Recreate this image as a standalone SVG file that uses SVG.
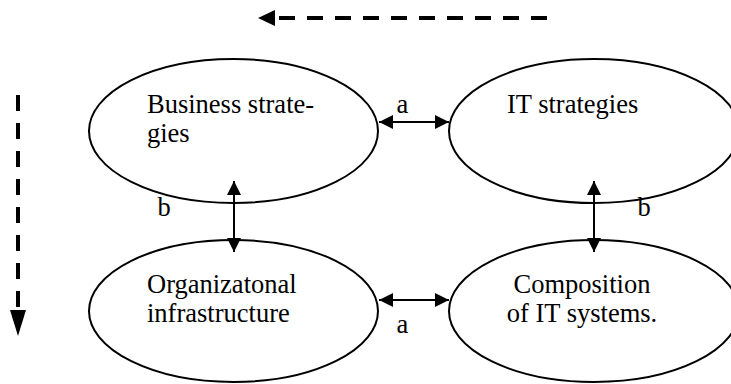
<svg xmlns="http://www.w3.org/2000/svg" width="731" height="384" viewBox="0 0 731 384">
<style>
.node ellipse{fill:#fff;stroke:#000;stroke-width:2}
.t{font-family:"Liberation Serif","Times New Roman",serif;font-size:26.5px;fill:#000}
.lbl{font-family:"Liberation Serif","Times New Roman",serif;font-size:26.5px;fill:#000}
.conn{stroke:#000;stroke-width:2;fill:none}
.dash{stroke:#000;stroke-width:4;fill:none;stroke-dasharray:16 12}
</style>
<defs>
<marker id="ah" viewBox="0 0 14 14" refX="14" refY="7" markerWidth="14" markerHeight="14" markerUnits="userSpaceOnUse" orient="auto-start-reverse">
<path d="M0,0 L14,7 L0,14 z" fill="#000"/>
</marker>
</defs>
<rect width="731" height="384" fill="#fff"/>
<g id="n-business" class="node">
<ellipse cx="233.5" cy="131" rx="144.5" ry="72"/>
<text class="t" x="147" y="113">Business strate-</text>
<text class="t" x="147" y="142">gies</text>
</g>
<g id="n-it" class="node">
<ellipse cx="594" cy="131" rx="145" ry="72"/>
<text class="t" x="507" y="113">IT strategies</text>
</g>
<g id="n-org" class="node">
<ellipse cx="233.5" cy="311" rx="144.5" ry="71"/>
<text class="t" x="147" y="293">Organizatonal</text>
<text class="t" x="147" y="322">infrastructure</text>
</g>
<g id="n-comp" class="node">
<ellipse cx="594" cy="311" rx="145" ry="71"/>
<text class="t" x="582" y="293" text-anchor="middle">Composition</text>
<text class="t" x="582" y="322" text-anchor="middle">of IT systems.</text>
</g>
<g id="connectors">
<line class="conn" x1="379" y1="122" x2="449" y2="122" marker-start="url(#ah)" marker-end="url(#ah)"/>
<line class="conn" x1="379" y1="300" x2="449" y2="300" marker-start="url(#ah)" marker-end="url(#ah)"/>
<line class="conn" x1="234" y1="181" x2="234" y2="252" marker-start="url(#ah)" marker-end="url(#ah)"/>
<line class="conn" x1="594" y1="181" x2="594" y2="252" marker-start="url(#ah)" marker-end="url(#ah)"/>
<text class="lbl" x="402.5" y="113" text-anchor="middle">a</text>
<text class="lbl" x="402.5" y="333" text-anchor="middle">a</text>
<text class="lbl" x="164" y="216" text-anchor="middle">b</text>
<text class="lbl" x="644" y="216" text-anchor="middle">b</text>
<line class="dash" x1="547" y1="18" x2="278" y2="18"/>
<polygon points="258,18 275,10 275,26" fill="#000"/>
<line class="dash" x1="18" y1="95" x2="18" y2="308"/>
<polygon points="18,336 10,310 26,310" fill="#000"/>
</g>
</svg>
